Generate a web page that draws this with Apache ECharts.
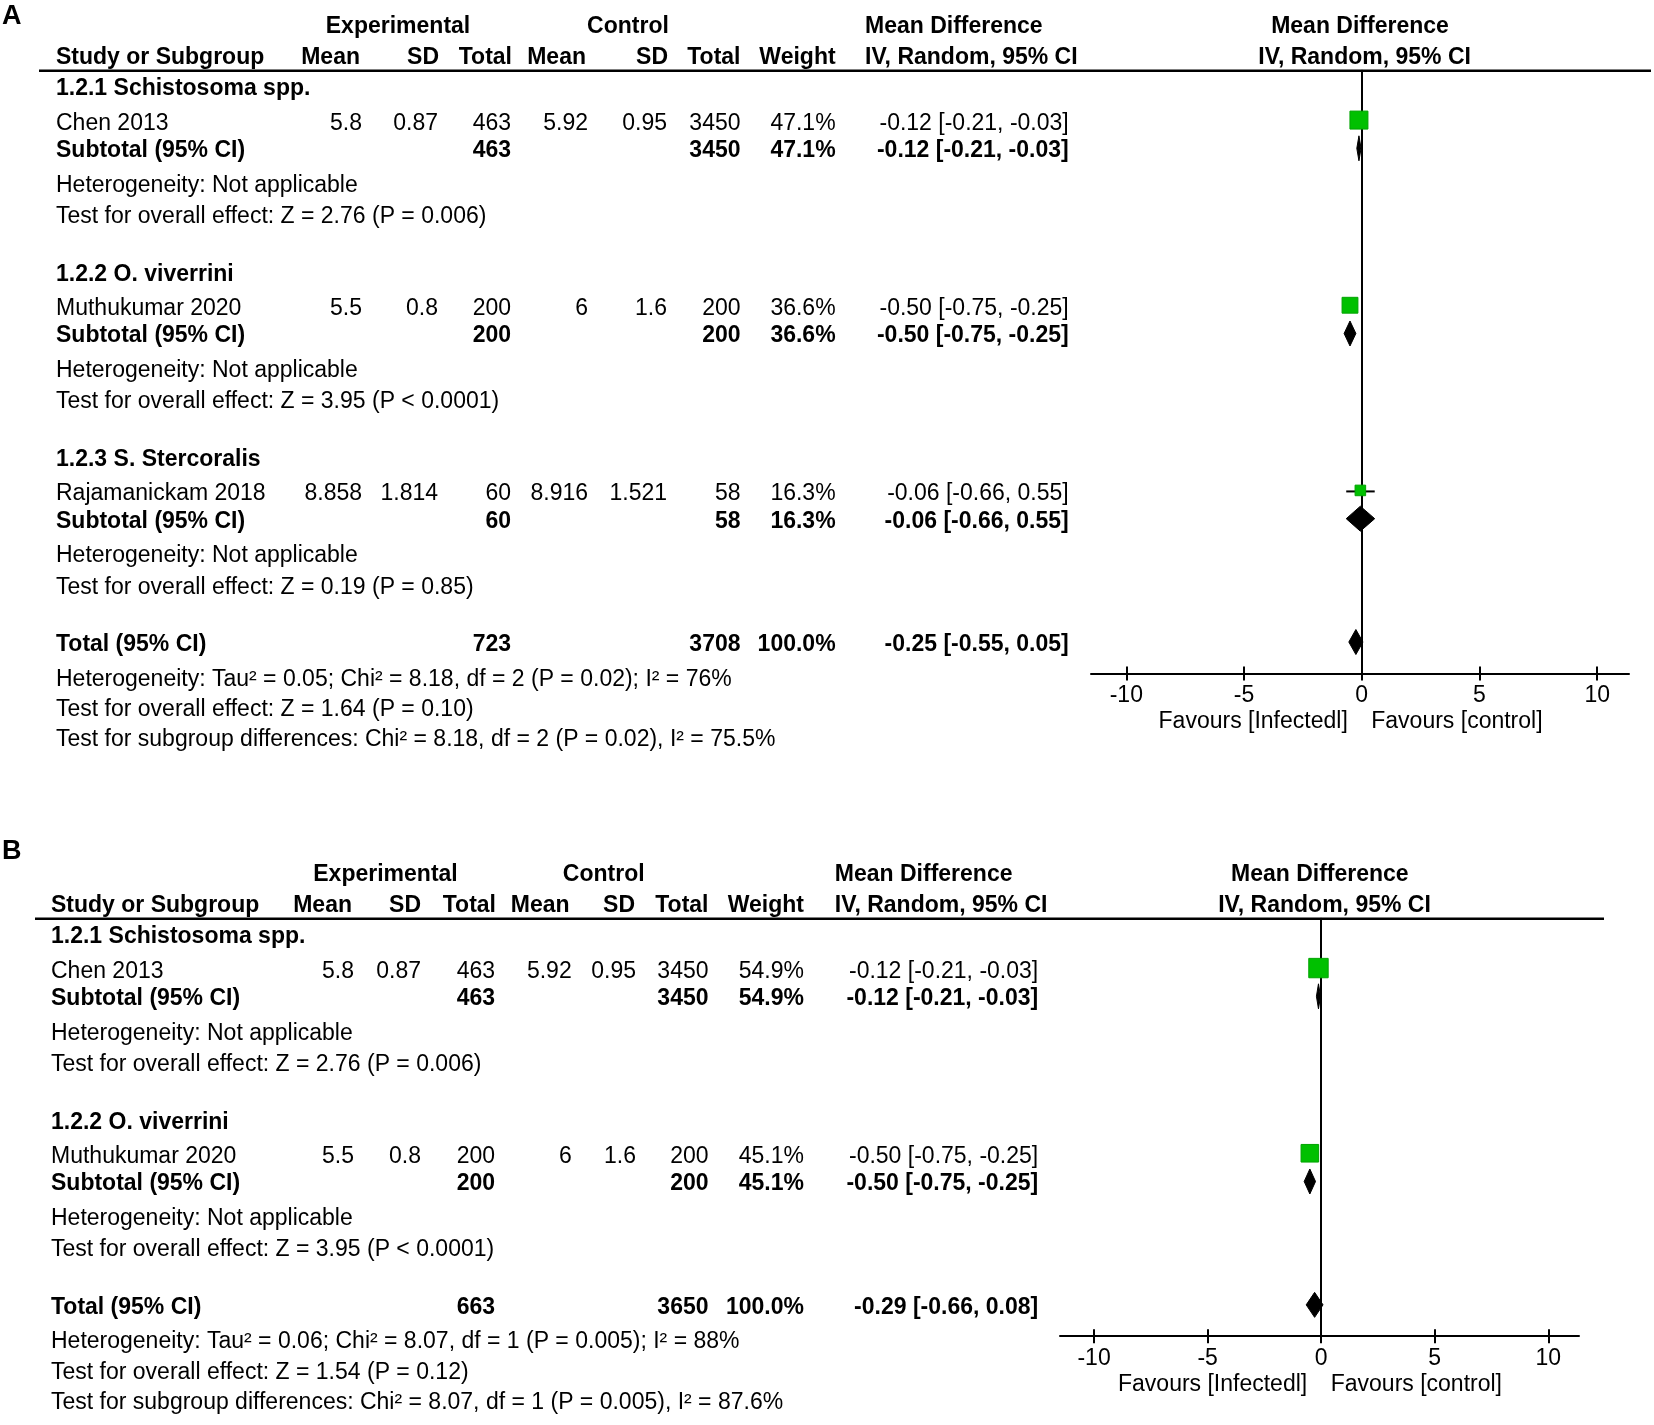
<!DOCTYPE html>
<html><head><meta charset="utf-8">
<script src="https://cdn.jsdelivr.net/npm/echarts@6/dist/echarts.min.js"></script>
<style>html,body{margin:0;padding:0;background:#fff}#c{width:1654px;height:1425px}</style>
</head><body><div id="c"></div>
<script>
// ===================== DATA =====================
// ---- Panel A ----
const SUBGROUPS_A = ['1.2.1 Schistosoma spp.', '1.2.2 O. viverrini', '1.2.3 S. Stercoralis'];
const STUDIES_A = ['Chen 2013', 'Muthukumar 2020', 'Rajamanickam 2018'];
const EXP_MEAN_A = [5.8, 5.5, 8.858];
const EXP_SD_A = [0.87, 0.8, 1.814];
const EXP_N_A = [463, 200, 60];
const CTL_MEAN_A = [5.92, 6, 8.916];
const CTL_SD_A = [0.95, 1.6, 1.521];
const CTL_N_A = [3450, 200, 58];
const WEIGHT_A = [47.1, 36.6, 16.3];
const MD_A = [-0.12, -0.50, -0.06];
const LO_A = [-0.21, -0.75, -0.66];
const HI_A = [-0.03, -0.25, 0.55];
const HET_A = ['Not applicable', 'Not applicable', 'Not applicable'];
const Z_A = ['Z = 2.76 (P = 0.006)', 'Z = 3.95 (P < 0.0001)', 'Z = 0.19 (P = 0.85)'];
const TOTAL_CI_A = [-0.25, -0.55, 0.05];
const TOTAL_N_A = [723, 3708];
const TOTAL_HET_A = 'Tau\u00B2 = 0.05; Chi\u00B2 = 8.18, df = 2 (P = 0.02); I\u00B2 = 76%';
const TOTAL_Z_A = 'Z = 1.64 (P = 0.10)';
const SUBDIFF_A = 'Chi\u00B2 = 8.18, df = 2 (P = 0.02), I\u00B2 = 75.5%';

// ---- Panel B ----
const SUBGROUPS_B = ['1.2.1 Schistosoma spp.', '1.2.2 O. viverrini'];
const STUDIES_B = ['Chen 2013', 'Muthukumar 2020'];
const EXP_MEAN_B = [5.8, 5.5];
const EXP_SD_B = [0.87, 0.8];
const EXP_N_B = [463, 200];
const CTL_MEAN_B = [5.92, 6];
const CTL_SD_B = [0.95, 1.6];
const CTL_N_B = [3450, 200];
const WEIGHT_B = [54.9, 45.1];
const MD_B = [-0.12, -0.50];
const LO_B = [-0.21, -0.75];
const HI_B = [-0.03, -0.25];
const HET_B = ['Not applicable', 'Not applicable'];
const Z_B = ['Z = 2.76 (P = 0.006)', 'Z = 3.95 (P < 0.0001)'];
const TOTAL_CI_B = [-0.29, -0.66, 0.08];
const TOTAL_N_B = [663, 3650];
const TOTAL_HET_B = 'Tau\u00B2 = 0.06; Chi\u00B2 = 8.07, df = 1 (P = 0.005); I\u00B2 = 88%';
const TOTAL_Z_B = 'Z = 1.54 (P = 0.12)';
const SUBDIFF_B = 'Chi\u00B2 = 8.07, df = 1 (P = 0.005), I\u00B2 = 87.6%';

// ---- shared ----
const X_TICKS = [-10, -5, 0, 5, 10];
const FAVOURS = ['Favours [Infectedl]', 'Favours [control]'];
const HEAD_TOP = ['Experimental', 'Control', 'Mean Difference', 'Mean Difference'];
const HEAD_COLS = ['Study or Subgroup', 'Mean', 'SD', 'Total', 'Mean', 'SD', 'Total', 'Weight', 'IV, Random, 95% CI', 'IV, Random, 95% CI'];

// ===================== LAYOUT / STYLE =====================
const FONT = '"Liberation Sans", Arial, sans-serif';
const FS = 23;
const LINE = 29.3;
const TEXT_DY = 2.6;
const OFF = { title: 0, study: 1.18, sub: 2.11, het: 3.3, test: 4.36 };
const BLOCK = 6.32;
const TOT = { total: 0, het: 1.18, test: 2.22, diff: 3.26 };
const AXIS_GAP = 1.07;
const HDR1 = -2.12, HDR2 = -1.08, HLINE = -0.54;
const SQUARE_K = 2.62, DIAMOND_H = 25;
const XMIN = -11.5, XMAX = 11.35;

const LAYOUT = [
  { label: 'A', labelTop: 3, origin: 86.5, line: [39, 1651],
    c: { study: 56, hExp: 398, hCtl: 628, hMD: 865, hMean1: 360, hSD1: 439, hTot1: 512, hMean2: 586, hSD2: 668, hTot2: 740.5, hW: 835.6,
         vMean1: 362, vSD1: 438, vTot1: 511, vMean2: 588, vSD2: 667, vTot2: 740.5, vW: 835.6, vCI: 1068.7 },
    forest: { left: 1091, width: 538, hMD: 1360, hCI: 1364.6 }, tmax: 23.5 },
  { label: 'B', labelTop: 838, origin: 934.5, line: [35, 1604],
    c: { study: 51, hExp: 385.5, hCtl: 603.7, hMD: 834.8, hMean1: 352, hSD1: 421, hTot1: 496, hMean2: 569.6, hSD2: 635, hTot2: 708.5, hW: 804,
         vMean1: 354, vSD1: 421, vTot1: 495, vMean2: 571.7, vSD2: 636, vTot2: 708.5, vW: 804, vCI: 1038.2 },
    forest: { left: 1060, width: 519, hMD: 1319.8, hCI: 1324.5 }, tmax: 16.5 }
];

const PANEL_DATA = [
  { sub: SUBGROUPS_A, st: STUDIES_A, em: EXP_MEAN_A, es: EXP_SD_A, en: EXP_N_A, cm: CTL_MEAN_A, cs: CTL_SD_A, cn: CTL_N_A,
    w: WEIGHT_A, md: MD_A, lo: LO_A, hi: HI_A, het: HET_A, z: Z_A, tci: TOTAL_CI_A, tn: TOTAL_N_A, thet: TOTAL_HET_A, tz: TOTAL_Z_A, diff: SUBDIFF_A },
  { sub: SUBGROUPS_B, st: STUDIES_B, em: EXP_MEAN_B, es: EXP_SD_B, en: EXP_N_B, cm: CTL_MEAN_B, cs: CTL_SD_B, cn: CTL_N_B,
    w: WEIGHT_B, md: MD_B, lo: LO_B, hi: HI_B, het: HET_B, z: Z_B, tci: TOTAL_CI_B, tn: TOTAL_N_B, thet: TOTAL_HET_B, tz: TOTAL_Z_B, diff: SUBDIFF_B }
];

const ci = (m, l, h) => m.toFixed(2) + ' [' + l.toFixed(2) + ', ' + h.toFixed(2) + ']';

function buildTexts(L, D) {
  const c = L.c, T = [];
  const add = (x, y, text, align, bold) => T.push({ x, y, text: String(text), align, bold: !!bold });
  add(c.hExp, HDR1, HEAD_TOP[0], 'center', 1);
  add(c.hCtl, HDR1, HEAD_TOP[1], 'center', 1);
  add(c.hMD, HDR1, HEAD_TOP[2], 'left', 1);
  add(L.forest.hMD, HDR1, HEAD_TOP[3], 'center', 1);
  add(c.study, HDR2, HEAD_COLS[0], 'left', 1);
  add(c.hMean1, HDR2, HEAD_COLS[1], 'right', 1);
  add(c.hSD1, HDR2, HEAD_COLS[2], 'right', 1);
  add(c.hTot1, HDR2, HEAD_COLS[3], 'right', 1);
  add(c.hMean2, HDR2, HEAD_COLS[4], 'right', 1);
  add(c.hSD2, HDR2, HEAD_COLS[5], 'right', 1);
  add(c.hTot2, HDR2, HEAD_COLS[6], 'right', 1);
  add(c.hW, HDR2, HEAD_COLS[7], 'right', 1);
  add(c.hMD, HDR2, HEAD_COLS[8], 'left', 1);
  add(L.forest.hCI, HDR2, HEAD_COLS[9], 'center', 1);
  D.sub.forEach((name, i) => {
    const b = i * BLOCK;
    add(c.study, b + OFF.title, name, 'left', 1);
    const y = b + OFF.study;
    add(c.study, y, D.st[i], 'left');
    add(c.vMean1, y, D.em[i], 'right');
    add(c.vSD1, y, D.es[i], 'right');
    add(c.vTot1, y, D.en[i], 'right');
    add(c.vMean2, y, D.cm[i], 'right');
    add(c.vSD2, y, D.cs[i], 'right');
    add(c.vTot2, y, D.cn[i], 'right');
    add(c.vW, y, D.w[i].toFixed(1) + '%', 'right');
    add(c.vCI, y, ci(D.md[i], D.lo[i], D.hi[i]), 'right');
    const ys = b + OFF.sub;
    add(c.study, ys, 'Subtotal (95% CI)', 'left', 1);
    add(c.vTot1, ys, D.en[i], 'right', 1);
    add(c.vTot2, ys, D.cn[i], 'right', 1);
    add(c.vW, ys, D.w[i].toFixed(1) + '%', 'right', 1);
    add(c.vCI, ys, ci(D.md[i], D.lo[i], D.hi[i]), 'right', 1);
    add(c.study, b + OFF.het, 'Heterogeneity: ' + D.het[i], 'left');
    add(c.study, b + OFF.test, 'Test for overall effect: ' + D.z[i], 'left');
  });
  const tb = D.sub.length * BLOCK;
  const wsum = D.w.reduce((a, v) => a + v, 0);
  add(c.study, tb + TOT.total, 'Total (95% CI)', 'left', 1);
  add(c.vTot1, tb + TOT.total, D.tn[0], 'right', 1);
  add(c.vTot2, tb + TOT.total, D.tn[1], 'right', 1);
  add(c.vW, tb + TOT.total, wsum.toFixed(1) + '%', 'right', 1);
  add(c.vCI, tb + TOT.total, ci(D.tci[0], D.tci[1], D.tci[2]), 'right', 1);
  add(c.study, tb + TOT.het, 'Heterogeneity: ' + D.thet, 'left');
  add(c.study, tb + TOT.test, 'Test for overall effect: ' + D.tz, 'left');
  add(c.study, tb + TOT.diff, 'Test for subgroup differences: ' + D.diff, 'left');
  return T;
}

function buildMarks(D) {
  const M = [];
  D.sub.forEach((_, i) => {
    const b = i * BLOCK;
    M.push({ kind: 'study', md: D.md[i], lo: D.lo[i], hi: D.hi[i], w: D.w[i], y: b + OFF.study });
    M.push({ kind: 'diamond', md: D.md[i], lo: D.lo[i], hi: D.hi[i], y: b + OFF.sub });
  });
  M.push({ kind: 'diamond', md: D.tci[0], lo: D.tci[1], hi: D.tci[2], y: D.sub.length * BLOCK + TOT.total });
  return M;
}

const grids = [], xAxes = [], yAxes = [], series = [], titles = [];

LAYOUT.forEach((L, p) => {
  const D = PANEL_DATA[p];
  const axisY = D.sub.length * BLOCK + TOT.total + AXIS_GAP;
  const tmin = -2.8;
  // table grid
  const gT = grids.length;
  grids.push({ left: 0, width: 1654, top: L.origin + tmin * LINE, height: (L.tmax - tmin) * LINE });
  const xT = xAxes.length;
  xAxes.push({ gridIndex: gT, type: 'value', min: 0, max: 1654, show: false });
  const yT = yAxes.length;
  yAxes.push({ gridIndex: gT, type: 'value', inverse: true, min: tmin, max: L.tmax, show: false });
  // forest grid
  const gF = grids.length;
  grids.push({ left: L.forest.left, width: L.forest.width, top: L.origin + HLINE * LINE, height: (axisY - HLINE) * LINE });
  const xF = xAxes.length;
  xAxes.push({ gridIndex: gF, type: 'value', min: XMIN, max: XMAX, position: 'bottom',
    axisLine: { show: true, onZero: false, lineStyle: { color: '#000', width: 2 } },
    axisTick: { show: true, customValues: X_TICKS, length: 7, lineStyle: { color: '#000', width: 2 } },
    axisLabel: { show: true, customValues: X_TICKS, margin: 11, color: '#000', fontSize: FS, fontFamily: FONT },
    splitLine: { show: false } });
  xAxes.push({ gridIndex: gF, type: 'value', min: XMIN, max: XMAX, position: 'bottom',
    axisLine: { show: false, onZero: false },
    axisTick: { show: true, inside: true, customValues: X_TICKS, length: 7, lineStyle: { color: '#000', width: 2 } },
    axisLabel: { show: false }, splitLine: { show: false } });
  const yF = yAxes.length;
  yAxes.push({ gridIndex: gF, type: 'value', inverse: true, min: HLINE, max: axisY,
    axisLine: { show: true, onZero: true, lineStyle: { color: '#000', width: 2 } },
    axisTick: { show: false }, axisLabel: { show: false }, splitLine: { show: false } });

  // header rule
  series.push({ type: 'custom', xAxisIndex: xT, yAxisIndex: yT, silent: true, z: 3,
    data: [[L.line[0], HLINE]],
    renderItem: (params, api) => {
      const a = api.coord([L.line[0], HLINE]), b = api.coord([L.line[1], HLINE]);
      return { type: 'line', shape: { x1: a[0], y1: a[1], x2: b[0], y2: b[1] }, style: { stroke: '#000', lineWidth: 2.5 } };
    } });

  // table text
  const texts = buildTexts(L, D);
  series.push({ type: 'custom', xAxisIndex: xT, yAxisIndex: yT, silent: true, z: 4,
    data: texts.map(t => [t.x, t.y]),
    renderItem: (params, api) => {
      const t = texts[params.dataIndex];
      const pt = api.coord([t.x, t.y]);
      return { type: 'text', x: pt[0], y: pt[1] + TEXT_DY, style: {
        text: t.text, fill: '#000', align: t.align, textAlign: t.align, verticalAlign: 'middle', textVerticalAlign: 'middle',
        font: (t.bold ? 'bold ' : '') + FS + 'px ' + FONT } };
    } });

  // forest marks
  const marks = buildMarks(D);
  series.push({ type: 'custom', xAxisIndex: xF, yAxisIndex: yF, silent: true, z: 5, clip: false,
    data: marks.map(m => [m.md, m.y]),
    renderItem: (params, api) => {
      const m = marks[params.dataIndex];
      const c = api.coord([m.md, m.y]), l = api.coord([m.lo, m.y]), h = api.coord([m.hi, m.y]);
      if (m.kind === 'study') {
        const s = SQUARE_K * Math.sqrt(m.w);
        return { type: 'group', children: [
          { type: 'line', shape: { x1: l[0], y1: c[1], x2: h[0], y2: c[1] }, style: { stroke: '#000', lineWidth: 2 } },
          { type: 'rect', shape: { x: c[0] - s / 2, y: c[1] - s / 2 - 1, width: s, height: s }, style: { fill: '#00c000', stroke: '#00a400', lineWidth: 1 } }
        ] };
      }
      const hh = DIAMOND_H / 2;
      return { type: 'polygon', shape: { points: [[l[0], c[1]], [c[0], c[1] - hh], [h[0], c[1]], [c[0], c[1] + hh]] },
        style: { fill: '#000', stroke: '#000', lineWidth: 1 } };
    } });

  // favours labels
  series.push({ type: 'custom', xAxisIndex: xF, yAxisIndex: yF, silent: true, z: 5, clip: false,
    data: [[0, axisY]],
    renderItem: (params, api) => {
      const c = api.coord([0, axisY]);
      const st = (text, align) => ({ text, fill: '#000', align, textAlign: align, verticalAlign: 'middle', textVerticalAlign: 'middle', font: FS + 'px ' + FONT });
      return { type: 'group', children: [
        { type: 'text', x: c[0] - 14, y: c[1] + 48.5, style: st(FAVOURS[0], 'right') },
        { type: 'text', x: c[0] + 9.5, y: c[1] + 48.5, style: st(FAVOURS[1], 'left') }
      ] };
    } });

  titles.push({ text: L.label, left: 2, top: L.labelTop, padding: 0,
    textStyle: { fontSize: 27, fontWeight: 'bold', color: '#000', fontFamily: FONT } });
});

const chart = echarts.init(document.getElementById('c'), null, { renderer: 'canvas' });
chart.setOption({
  animation: false,
  backgroundColor: '#fff',
  title: titles,
  grid: grids,
  xAxis: xAxes,
  yAxis: yAxes,
  series: series
});
</script>
</body></html>
